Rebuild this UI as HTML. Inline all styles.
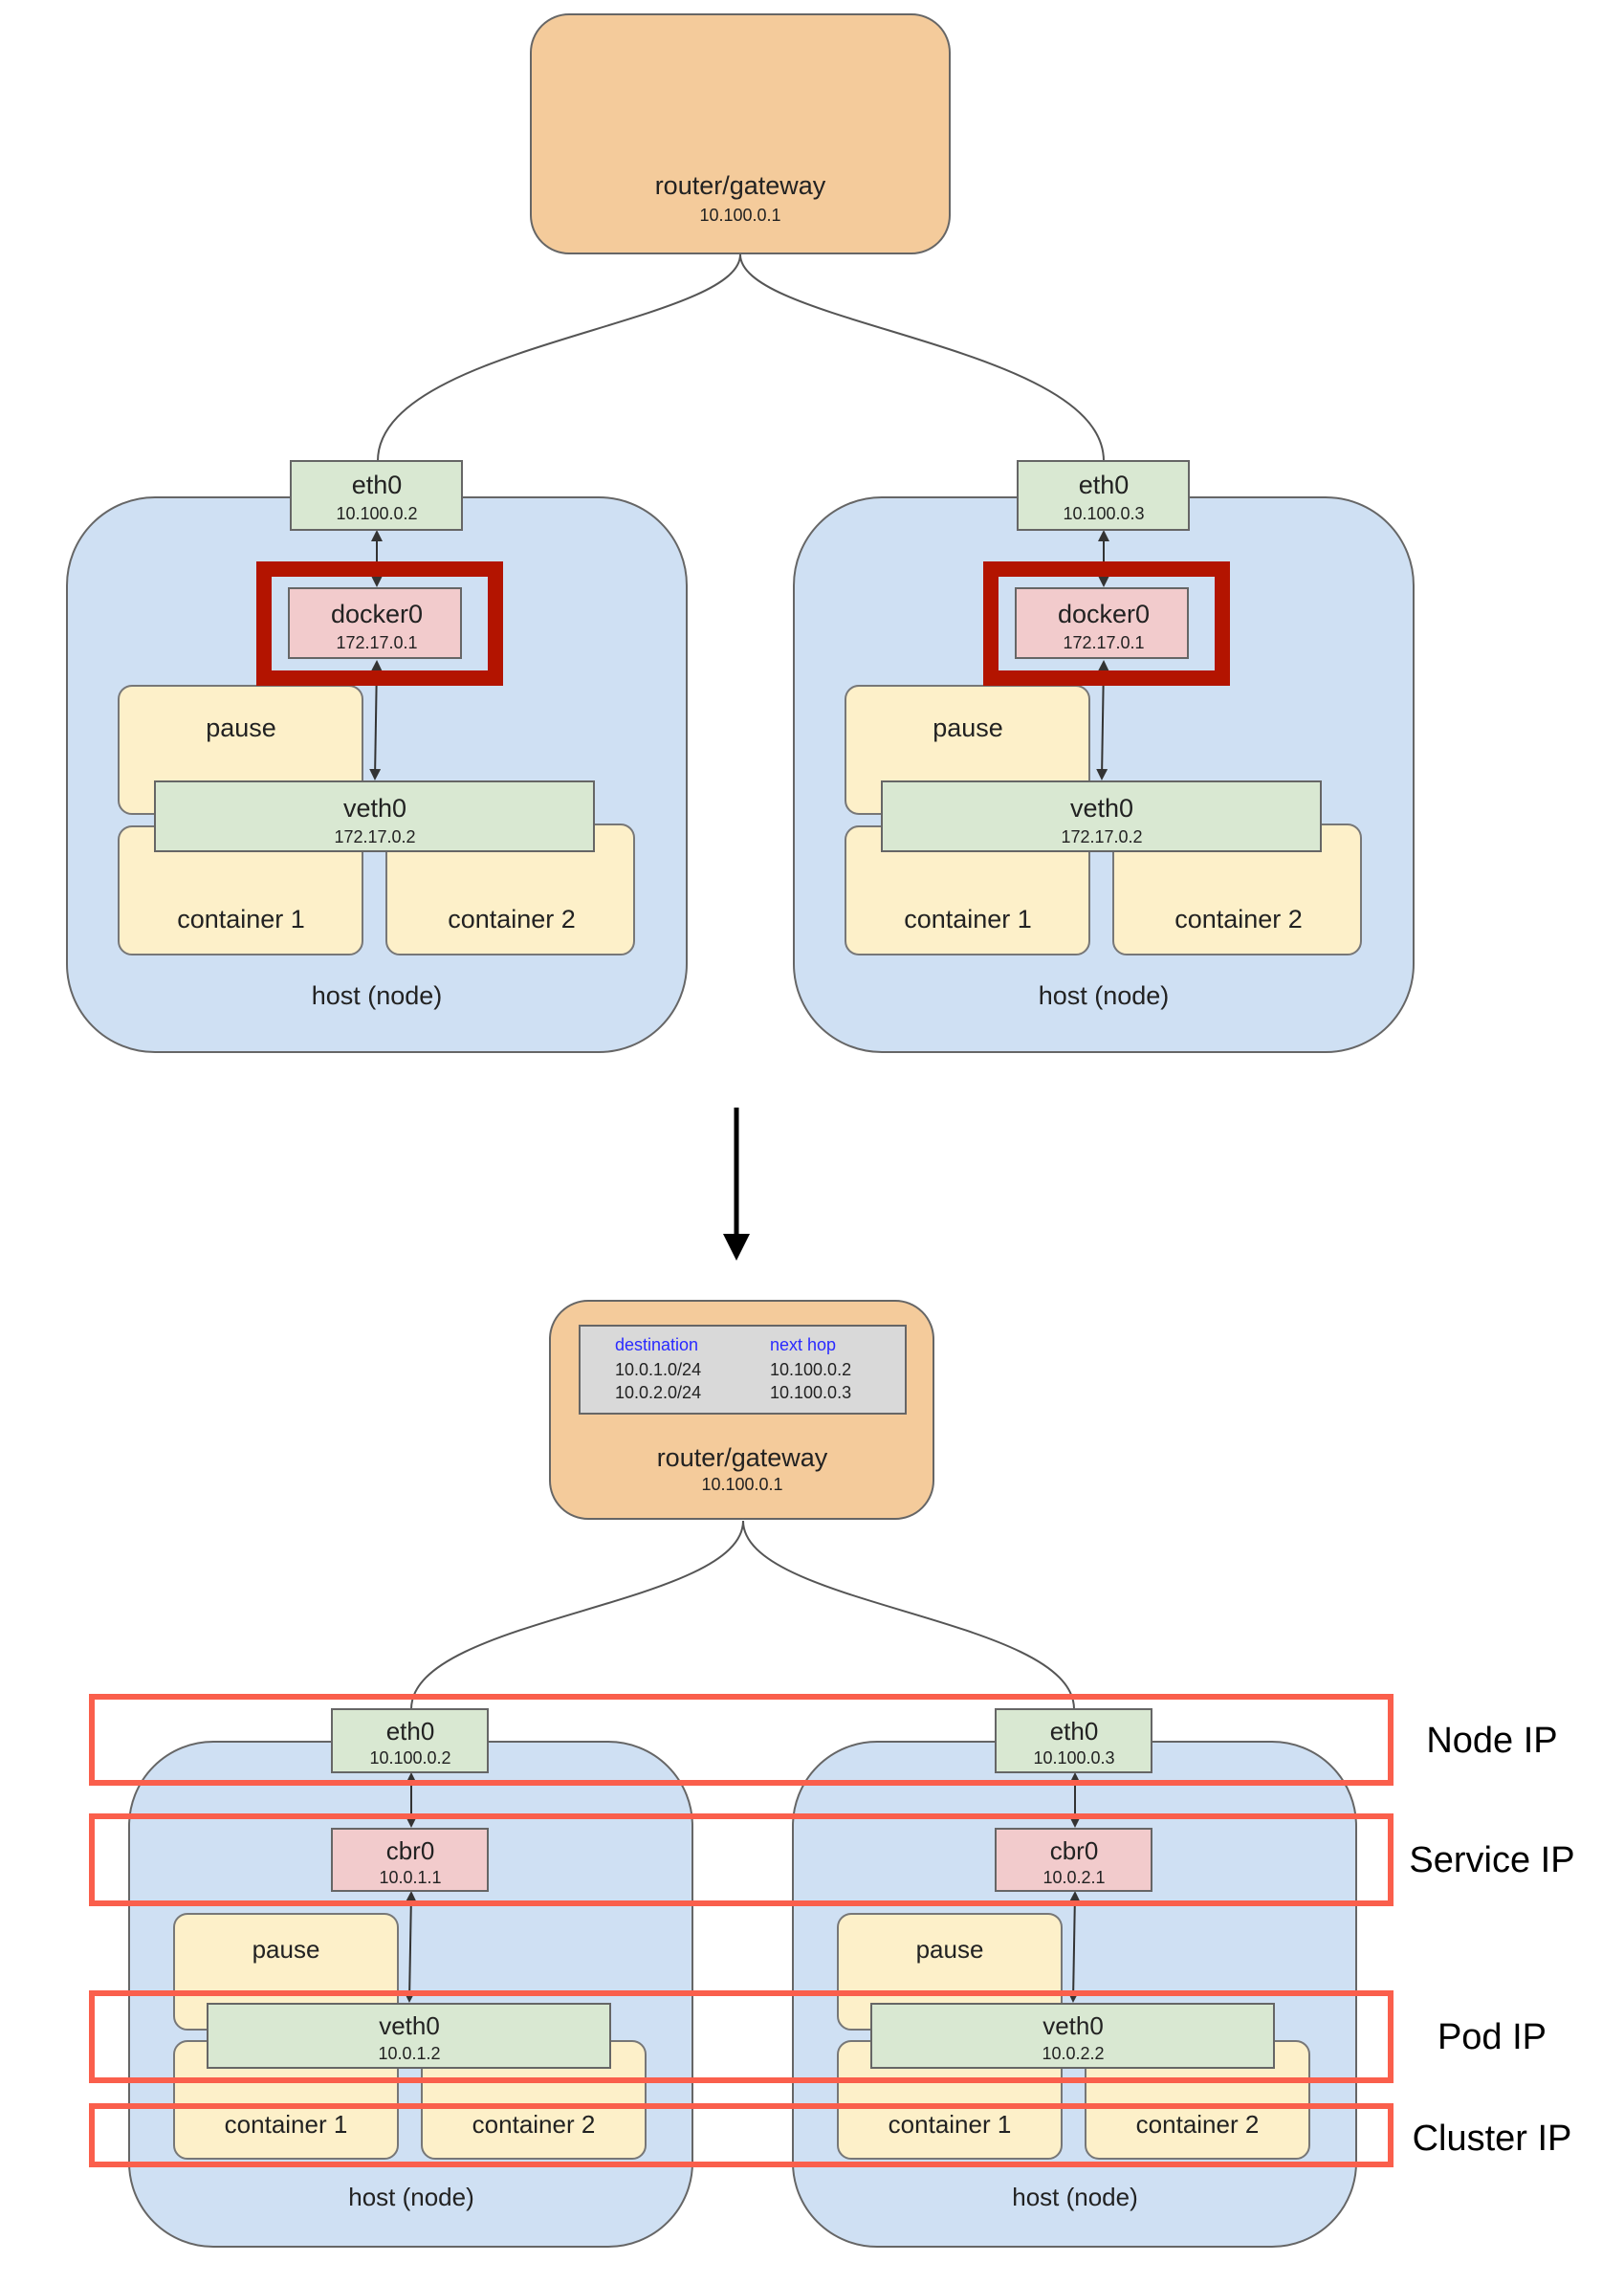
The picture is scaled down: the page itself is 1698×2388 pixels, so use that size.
<!DOCTYPE html>
<html><head><meta charset="utf-8"><style>html,body{margin:0;padding:0;background:#fff}svg{display:block}</style></head>
<body>
<svg width="1698" height="2388" viewBox="0 0 1698 2388" xmlns="http://www.w3.org/2000/svg" font-family="Liberation Sans, sans-serif" text-anchor="middle" fill="#222">
<defs>
<marker id="a" markerWidth="6" markerHeight="6" refX="5" refY="3" orient="auto-start-reverse"><path d="M0,0 L6,3 L0,6z" fill="#333"/></marker>
<g id="top">
 <rect x="70" y="520" width="648" height="580" rx="92" fill="#cfe0f3" stroke="#666" stroke-width="2"/>
 <rect x="124" y="717" width="255" height="134" rx="14" fill="#fdf0c9" stroke="#777" stroke-width="2"/>
 <rect x="124" y="864" width="255" height="134" rx="14" fill="#fdf0c9" stroke="#777" stroke-width="2"/>
 <rect x="404" y="862" width="259" height="136" rx="14" fill="#fdf0c9" stroke="#777" stroke-width="2"/>
 <text x="252" y="770" font-size="27">pause</text>
 <text x="252" y="970" font-size="27">container 1</text>
 <text x="535" y="970" font-size="27">container 2</text>
 <text x="394" y="1050" font-size="27">host (node)</text>
 <line x1="394" y1="556" x2="394" y2="612" stroke="#333" stroke-width="2" marker-end="url(#a)" marker-start="url(#a)"/>
 <line x1="394" y1="692" x2="392" y2="814" stroke="#333" stroke-width="2" marker-end="url(#a)" marker-start="url(#a)"/>
 <rect x="304" y="482" width="179" height="72" fill="#d9e8d2" stroke="#666" stroke-width="2"/>
 <text x="394" y="516" font-size="27">eth0</text>
 <rect x="302" y="615" width="180" height="73" fill="#f2cbcc" stroke="#666" stroke-width="2"/>
 <text x="394" y="651" font-size="27">docker0</text><text x="394" y="678" font-size="18">172.17.0.1</text>
 <rect x="162" y="817" width="459" height="73" fill="#d9e8d2" stroke="#666" stroke-width="2"/>
 <text x="392" y="854" font-size="27">veth0</text><text x="392" y="881" font-size="18">172.17.0.2</text>
 <rect x="276" y="595" width="242" height="114" fill="none" stroke="#b31400" stroke-width="16"/>
</g>
<g id="bot">
 <rect x="135" y="1821" width="589" height="528" rx="88" fill="#cfe0f3" stroke="#666" stroke-width="2"/>
 <rect x="182" y="2001" width="234" height="121" rx="14" fill="#fdf0c9" stroke="#777" stroke-width="2"/>
 <rect x="182" y="2134" width="234" height="123" rx="14" fill="#fdf0c9" stroke="#777" stroke-width="2"/>
 <rect x="441" y="2134" width="234" height="123" rx="14" fill="#fdf0c9" stroke="#777" stroke-width="2"/>
 <text x="299" y="2047" font-size="26">pause</text>
 <text x="299" y="2230" font-size="26">container 1</text>
 <text x="558" y="2230" font-size="26">container 2</text>
 <text x="430" y="2306" font-size="26">host (node)</text>
 <line x1="430" y1="1855" x2="430" y2="1909" stroke="#333" stroke-width="2" marker-end="url(#a)" marker-start="url(#a)"/>
 <line x1="430" y1="1979" x2="428" y2="2092" stroke="#333" stroke-width="2" marker-end="url(#a)" marker-start="url(#a)"/>
 <rect x="347" y="1787" width="163" height="66" fill="#d9e8d2" stroke="#666" stroke-width="2"/>
 <text x="429" y="1819" font-size="26">eth0</text>
 <rect x="347" y="1912" width="163" height="65" fill="#f2cbcc" stroke="#666" stroke-width="2"/>
 <text x="429" y="1944" font-size="26">cbr0</text>
 <rect x="217" y="2095" width="421" height="67" fill="#d9e8d2" stroke="#666" stroke-width="2"/>
 <text x="428" y="2127" font-size="26">veth0</text>
</g>
</defs>

<rect x="555" y="15" width="438" height="250" rx="40" fill="#f4cb9b" stroke="#666" stroke-width="2"/>
<text x="774" y="203" font-size="27">router/gateway</text>
<text x="774" y="231" font-size="18">10.100.0.1</text>
<path d="M774,266 C774,340 395,360 395,482 M774,266 C774,340 1154,360 1154,482" fill="none" stroke="#555" stroke-width="2"/>
<use href="#top"/>
<use href="#top" x="760"/>
<text x="394" y="543" font-size="18">10.100.0.2</text>
<text x="1154" y="543" font-size="18">10.100.0.3</text>

<line x1="770" y1="1158" x2="770" y2="1292" stroke="#000" stroke-width="5"/>
<path d="M756,1290 L784,1290 L770,1318z" fill="#000"/>

<rect x="575" y="1360" width="401" height="228" rx="40" fill="#f4cb9b" stroke="#666" stroke-width="2"/>
<rect x="606" y="1386" width="341" height="92" fill="#d9d9d9" stroke="#666" stroke-width="2"/>
<g font-size="18" text-anchor="start">
<text x="643" y="1412" fill="#2a2aff">destination</text><text x="805" y="1412" fill="#2a2aff">next hop</text>
<text x="643" y="1438">10.0.1.0/24</text><text x="805" y="1438">10.100.0.2</text>
<text x="643" y="1462">10.0.2.0/24</text><text x="805" y="1462">10.100.0.3</text>
</g>
<text x="776" y="1533" font-size="27">router/gateway</text>
<text x="776" y="1558" font-size="18">10.100.0.1</text>
<path d="M777,1590 C777,1680 430,1690 430,1787 M777,1590 C777,1680 1123,1690 1123,1787" fill="none" stroke="#555" stroke-width="2"/>
<use href="#bot"/>
<use href="#bot" x="694"/>
<g font-size="18">
<text x="429" y="1844">10.100.0.2</text><text x="1123" y="1844">10.100.0.3</text>
<text x="429" y="1969">10.0.1.1</text><text x="1123" y="1969">10.0.2.1</text>
<text x="428" y="2153">10.0.1.2</text><text x="1122" y="2153">10.0.2.2</text>
</g>

<g fill="none" stroke="#fa5f4c" stroke-width="6">
<rect x="96" y="1774" width="1358" height="90"/>
<rect x="96" y="1899" width="1358" height="91"/>
<rect x="96" y="2084" width="1358" height="91"/>
<rect x="96" y="2202" width="1358" height="61"/>
</g>
<g font-size="38" fill="#000">
<text x="1560" y="1832">Node IP</text>
<text x="1560" y="1957">Service IP</text>
<text x="1560" y="2142">Pod IP</text>
<text x="1560" y="2248">Cluster IP</text>
</g>
</svg>
</body></html>
